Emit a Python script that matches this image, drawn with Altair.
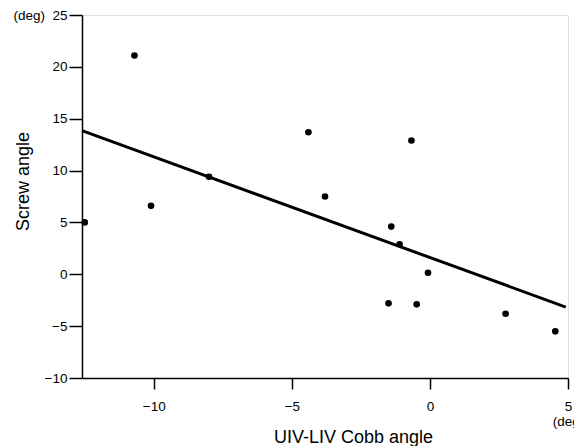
import altair as alt
import pandas as pd

# Scatter data
cobb = [-12.5, -10.7, -10.1, -8.0, -4.4, -3.8, -1.5, -1.4, -1.1, -0.67, -0.48, -0.07, 2.74, 4.54]
screw = [5.0, 21.1, 6.6, 9.4, 13.7, 7.5, -2.8, 4.6, 2.9, 12.9, -2.9, 0.15, -3.8, -5.5]

# Regression line end points
line_x = [-12.6, 4.92]
line_y = [13.85, -3.16]

x_ticks = [-10, -5, 0, 5]
y_ticks = [-10, -5, 0, 5, 10, 15, 20, 25]

pts = pd.DataFrame({"x": cobb, "y": screw})
ln = pd.DataFrame({"x": line_x, "y": line_y})

FONT = "Liberation Sans"
NB = "\u00a0"

xscale = alt.Scale(domain=[-12.6, 5], nice=False, zero=False)
yscale = alt.Scale(domain=[-10, 25], nice=False, zero=False)

xaxis = alt.Axis(
    title="UIV-LIV Cobb angle", values=x_ticks, grid=False,
    domainColor="black", domainWidth=1.5, tickColor="black", tickWidth=1.5, tickSize=11,
    labelColor="black", labelFont=FONT, labelFontSize=13.5, labelPadding=10,
    labelBaseline="top", labelLineHeight=15, labelFlush=False, labelOverlap=False,
    labelExpr="datum.value == 5 ? ['5', '(deg)'] : datum.label",
    titleFont=FONT, titleFontSize=18, titleFontWeight="normal", titleColor="black",
    titleX=271, titleY=64, titleAlign="center", titleBaseline="alphabetic",
)
yaxis = alt.Axis(
    title="Screw angle", values=y_ticks, grid=False,
    domainColor="black", domainWidth=1.5, tickColor="black", tickWidth=1.5, tickSize=13,
    labelColor="black", labelFont=FONT, labelFontSize=13.5, labelPadding=2,
    labelFlush=False, labelOverlap=False,
    labelExpr=f"datum.value == 25 ? '(deg){NB}{NB}25' : datum.label",
    titleFont=FONT, titleFontSize=18, titleFontWeight="normal", titleColor="black",
    titleX=-54, titleY=166, titleAngle=-90, titleAlign="center", titleBaseline="alphabetic",
)

points = alt.Chart(pts).mark_circle(color="black", opacity=1, size=44).encode(
    x=alt.X("x:Q", scale=xscale, axis=xaxis),
    y=alt.Y("y:Q", scale=yscale, axis=yaxis),
)
line = alt.Chart(ln).mark_line(color="black", strokeWidth=3).encode(
    x=alt.X("x:Q", scale=xscale),
    y=alt.Y("y:Q", scale=yscale),
)

chart = alt.layer(line, points).properties(
    width=486, height=363,
    autosize="none",
    padding={"left": 74, "top": 7, "right": 6, "bottom": 68},
).configure_view(stroke=None).configure(background="white")

chart.save("out.html", embed_options={"renderer": "svg", "actions": False})
